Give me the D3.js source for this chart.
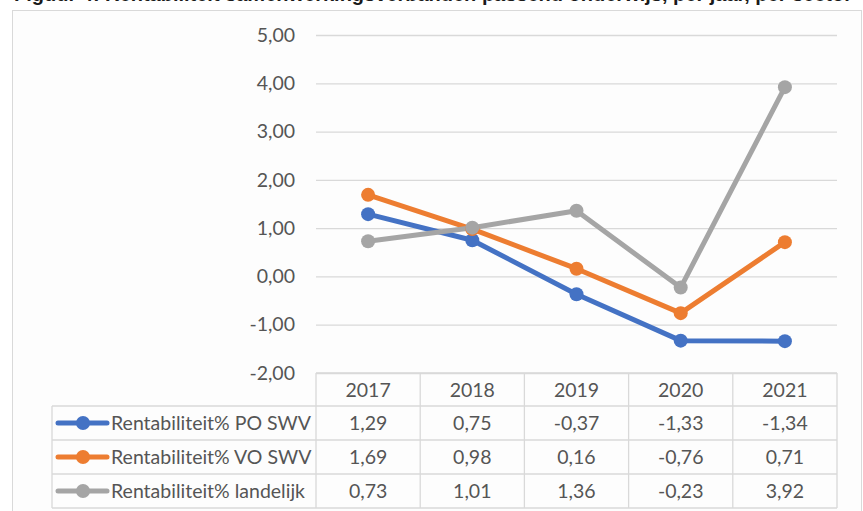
<!DOCTYPE html>
<html>
<head>
<meta charset="utf-8">
<script src="https://cdn.jsdelivr.net/npm/d3@7"></script>
<style>
  html, body { margin: 0; padding: 0; background: #ffffff; }
  svg { display: block; }
</style>
</head>
<body>
<div id="chart"></div>
<script>
// --------------- Data ---------------
const years = ["2017", "2018", "2019", "2020", "2021"];
const poSwv = [1.29, 0.75, -0.37, -1.33, -1.34];
const voSwv = [1.69, 0.98, 0.16, -0.76, 0.71];
const landelijk = [0.73, 1.01, 1.36, -0.23, 3.92];
const seriesNames = ["Rentabiliteit% PO SWV", "Rentabiliteit% VO SWV", "Rentabiliteit% landelijk"];
const seriesColors = ["#4472c4", "#ed7d31", "#a5a5a5"];
const yTicks = [-2, -1, 0, 1, 2, 3, 4, 5];
const title = "Figuur 4: Rentabiliteit samenwerkingsverbanden passend onderwijs, per jaar, per sector";

const series = [poSwv, voSwv, landelijk].map((values, i) => ({
  name: seriesNames[i],
  color: seriesColors[i],
  values,
}));

// --------------- Constants ---------------
const WIDTH = 863;
const HEIGHT = 511;
const FONT = "Lato, 'Open Sans', sans-serif";
const FONT_SIZE = 19.5;
const TEXT_COLOR = "#555555";
const GRID_COLOR = "#d9d9d9";

const nl = d3.formatLocale({
  decimal: ",",
  thousands: ".",
  grouping: [3],
  currency: ["€", ""],
  minus: "-",
});
const fmt = nl.format(".2f");

const svg = d3
  .select("#chart")
  .append("svg")
  .attr("width", WIDTH)
  .attr("height", HEIGHT);

// caption above the chart box, cut off by the page top as in the source
svg
  .append("text")
  .attr("x", 14)
  .attr("y", 1)
  .attr("font-family", "'Liberation Sans', Arial, sans-serif")
  .attr("font-weight", "bold")
  .attr("font-size", 20)
  .attr("fill", "#1a1a1a")
  .text(title);

// chart area box
svg
  .append("rect")
  .attr("x", 12.5)
  .attr("y", 10.5)
  .attr("width", 849)
  .attr("height", 520)
  .attr("fill", "#fdfdfd")
  .attr("stroke", GRID_COLOR);

// --------------- Scales ---------------
const x = d3.scaleBand().domain(years).range([316, 837]);
const y = d3.scaleLinear().domain([-2, 5]).range([373, 35]);

// --------------- Y axis + gridlines ---------------
const yAxis = svg
  .append("g")
  .attr("transform", `translate(316,0)`)
  .call(
    d3
      .axisLeft(y)
      .tickValues(yTicks)
      .tickFormat(fmt)
      .tickSize(-(837 - 316))
      .tickPadding(21)
  );
yAxis.select(".domain").remove();
yAxis.selectAll(".tick line").attr("stroke", GRID_COLOR).attr("stroke-width", 1.3);
yAxis
  .selectAll(".tick text")
  .attr("fill", TEXT_COLOR)
  .attr("font-family", FONT)
  .attr("font-size", FONT_SIZE);

// --------------- Lines ---------------
const line = d3
  .line()
  .x((d, i) => x(years[i]) + x.bandwidth() / 2)
  .y((d) => y(d));

const seriesG = svg.append("g");
seriesG
  .selectAll("path")
  .data(series)
  .enter()
  .append("path")
  .attr("d", (d) => line(d.values))
  .attr("fill", "none")
  .attr("stroke", (d) => d.color)
  .attr("stroke-width", 5)
  .attr("stroke-linejoin", "round");

seriesG
  .selectAll("g.markers")
  .data(series)
  .enter()
  .append("g")
  .attr("fill", (d) => d.color)
  .selectAll("circle")
  .data((d) => d.values)
  .enter()
  .append("circle")
  .attr("cx", (d, i) => x(years[i]) + x.bandwidth() / 2)
  .attr("cy", (d) => y(d))
  .attr("r", 7);

// --------------- Data table ---------------
const tableTop = y(-2);
const headerH = 33;
const rowH = 34;
const legendLeft = 52;
const tableRight = x.range()[1];
const rowsTop = tableTop + headerH;
const tableBottom = rowsTop + rowH * series.length;

const table = svg.append("g").attr("stroke", GRID_COLOR).attr("stroke-width", 1.3);

// horizontal lines
table
  .append("line")
  .attr("x1", x.range()[0]).attr("x2", tableRight)
  .attr("y1", tableTop).attr("y2", tableTop);
table
  .selectAll("line.row")
  .data(d3.range(series.length + 1))
  .enter()
  .append("line")
  .attr("x1", legendLeft).attr("x2", tableRight)
  .attr("y1", (d) => rowsTop + d * rowH)
  .attr("y2", (d) => rowsTop + d * rowH);

// vertical lines
table
  .selectAll("line.col")
  .data(years.concat(["end"]))
  .enter()
  .append("line")
  .attr("x1", (d) => (d === "end" ? tableRight : x(d)))
  .attr("x2", (d) => (d === "end" ? tableRight : x(d)))
  .attr("y1", tableTop)
  .attr("y2", tableBottom);
table
  .append("line")
  .attr("x1", legendLeft).attr("x2", legendLeft)
  .attr("y1", rowsTop).attr("y2", tableBottom);

const textG = svg
  .append("g")
  .attr("fill", TEXT_COLOR)
  .attr("font-family", FONT)
  .attr("font-size", FONT_SIZE);

// header years
textG
  .selectAll("text.year")
  .data(years)
  .enter()
  .append("text")
  .attr("x", (d) => x(d) + x.bandwidth() / 2)
  .attr("y", tableTop + headerH / 2 + 7)
  .attr("text-anchor", "middle")
  .text((d) => d);

// values
series.forEach((s, r) => {
  textG
    .append("g")
    .selectAll("text")
    .data(s.values)
    .enter()
    .append("text")
    .attr("x", (d, i) => x(years[i]) + x.bandwidth() / 2)
    .attr("y", rowsTop + r * rowH + rowH / 2 + 7)
    .attr("text-anchor", "middle")
    .text((d) => fmt(d));
});

// legend keys
const legend = svg
  .append("g")
  .selectAll("g")
  .data(series)
  .enter()
  .append("g")
  .attr("transform", (d, i) => `translate(0,${rowsTop + i * rowH + rowH / 2})`);
legend
  .append("line")
  .attr("x1", 58).attr("x2", 107)
  .attr("stroke", (d) => d.color)
  .attr("stroke-width", 5)
  .attr("stroke-linecap", "round");
legend
  .append("circle")
  .attr("cx", 83)
  .attr("r", 7)
  .attr("fill", (d) => d.color);
legend
  .append("text")
  .attr("x", 111)
  .attr("y", 7)
  .attr("fill", TEXT_COLOR)
  .attr("font-family", FONT)
  .attr("font-size", FONT_SIZE)
  .text((d) => d.name);
</script>
</body>
</html>
